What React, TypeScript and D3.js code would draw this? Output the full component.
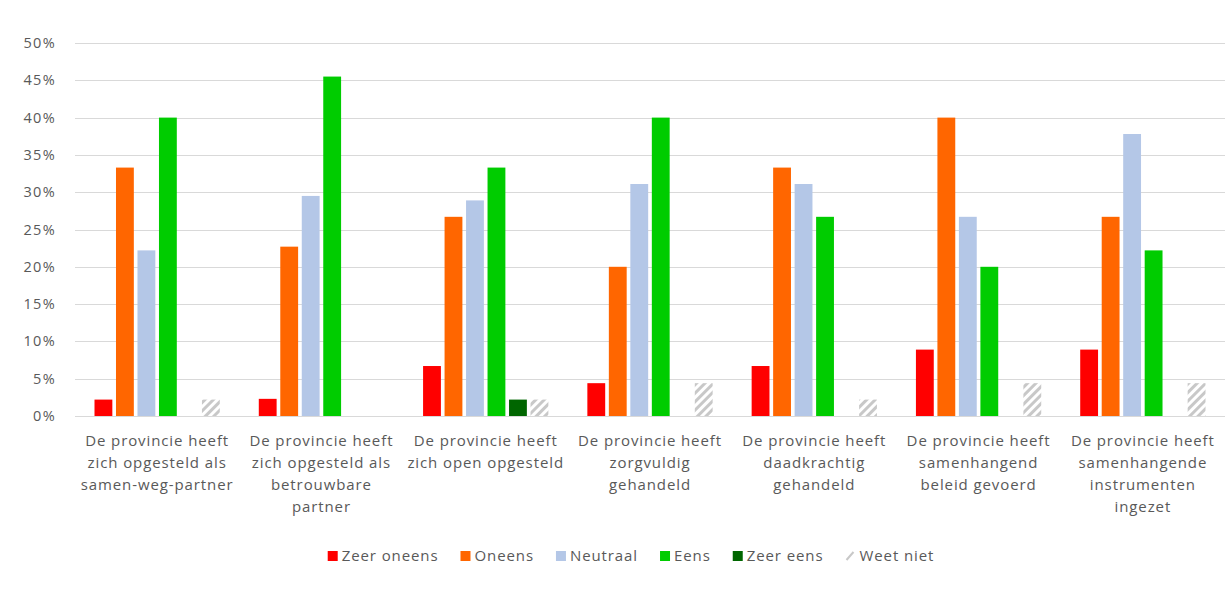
import React, { useEffect, useRef } from 'react';
import * as d3 from 'd3';

const categories = [
  'De provincie heeft zich opgesteld als samen-weg-partner',
  'De provincie heeft zich opgesteld als betrouwbare partner',
  'De provincie heeft zich open opgesteld',
  'De provincie heeft zorgvuldig gehandeld',
  'De provincie heeft daadkrachtig gehandeld',
  'De provincie heeft samenhangend beleid gevoerd',
  'De provincie heeft samenhangende instrumenten ingezet',
];

// how the category labels wrap in the original
const labelLines = [
  ['De provincie heeft', 'zich opgesteld als', 'samen-weg-partner'],
  ['De provincie heeft', 'zich opgesteld als', 'betrouwbare', 'partner'],
  ['De provincie heeft', 'zich open opgesteld'],
  ['De provincie heeft', 'zorgvuldig', 'gehandeld'],
  ['De provincie heeft', 'daadkrachtig', 'gehandeld'],
  ['De provincie heeft', 'samenhangend', 'beleid gevoerd'],
  ['De provincie heeft', 'samenhangende', 'instrumenten', 'ingezet'],
];

const seriesNames = ['Zeer oneens', 'Oneens', 'Neutraal', 'Eens', 'Zeer eens', 'Weet niet'];
const seriesColors = ['#ff0000', '#ff6600', '#b4c7e7', '#00cc00', '#006600', 'url(#hatch)'];

const zeerOneens = [0.022, 0.023, 0.067, 0.044, 0.067, 0.089, 0.089];
const oneens = [0.333, 0.227, 0.267, 0.2, 0.333, 0.4, 0.267];
const neutraal = [0.222, 0.295, 0.289, 0.311, 0.311, 0.267, 0.378];
const eens = [0.4, 0.455, 0.333, 0.4, 0.267, 0.2, 0.222];
const zeerEens = [0, 0, 0.022, 0, 0, 0, 0];
const weetNiet = [0.022, 0, 0.022, 0.044, 0.022, 0.044, 0.044];

const seriesValues = [zeerOneens, oneens, neutraal, eens, zeerEens, weetNiet];

const yTicks = [0, 0.05, 0.1, 0.15, 0.2, 0.25, 0.3, 0.35, 0.4, 0.45, 0.5];

const W = 1227;
const H = 605;
const FONT = '"Open Sans", sans-serif';
const TEXT = '#595959';

const App: React.FC = () => {
  const svgRef = useRef<SVGSVGElement>(null);

  useEffect(() => {
    if (!svgRef.current) return;
    const root = d3.select(svgRef.current);
    root.selectAll('*').remove();

    const defs = root.append('defs');
    const pat = defs.append('pattern')
      .attr('id', 'hatch')
      .attr('patternUnits', 'userSpaceOnUse')
      .attr('width', 6)
      .attr('height', 6)
      .attr('patternTransform', 'rotate(45)');
    pat.append('rect').attr('width', 6).attr('height', 6).attr('fill', '#fff');
    pat.append('rect').attr('x', 0).attr('width', 3).attr('height', 6).attr('fill', '#c8c8c8');

    const left = 75, right = 1225, top = 43, bottom = 416;

    const x0 = d3.scaleBand<string>().domain(categories).range([left, right]);
    const gap = 19.5;
    const x1 = d3.scaleBand<string>()
      .domain(seriesNames)
      .range([gap, x0.bandwidth() - gap])
      .paddingInner(0.17);
    const y = d3.scaleLinear().domain([0, 0.5]).range([bottom, top]);

    // gridlines
    root.append('g')
      .selectAll('line')
      .data(yTicks)
      .enter()
      .append('line')
      .attr('x1', left)
      .attr('x2', right)
      .attr('y1', d => Math.round(y(d)) + 0.5)
      .attr('y2', d => Math.round(y(d)) + 0.5)
      .attr('stroke', '#d9d9d9')
      .attr('stroke-width', 1);

    // y tick labels
    root.append('g')
      .selectAll('text')
      .data(yTicks)
      .enter()
      .append('text')
      .attr('x', 56)
      .attr('y', d => y(d))
      .attr('dy', '0.35em')
      .attr('text-anchor', 'end')
      .attr('font-family', FONT)
      .attr('font-size', 14.5)
      .attr('letter-spacing', 1.3)
      .attr('fill', TEXT)
      .text(d => d3.format('.0%')(d));

    // bars
    seriesNames.forEach((name, si) => {
      root.append('g')
        .selectAll('rect')
        .data(seriesValues[si])
        .enter()
        .append('rect')
        .attr('x', (_, i) => (x0(categories[i]) || 0) + (x1(name) || 0))
        .attr('y', d => y(d))
        .attr('width', x1.bandwidth())
        .attr('height', d => bottom - y(d))
        .attr('fill', seriesColors[si]);
    });

    // category labels
    const lab = root.append('g');
    categories.forEach((c, i) => {
      const cx = (x0(c) || 0) + x0.bandwidth() / 2;
      const t = lab.append('text')
        .attr('text-anchor', 'middle')
        .attr('font-family', FONT)
        .attr('font-size', 15)
        .attr('letter-spacing', 0.9)
        .attr('fill', TEXT);
      labelLines[i].forEach((ln, li) => {
        t.append('tspan').attr('x', cx).attr('y', 446 + li * 22).text(ln);
      });
    });

    // legend
    const leg = root.append('g');
    const ly = 556;
    const items = seriesNames.map((n, i) => {
      const g = leg.append('g');
      if (i === 5) {
        g.append('line')
          .attr('x1', 1).attr('y1', 4).attr('x2', 8).attr('y2', -4)
          .attr('stroke', '#c8c8c8').attr('stroke-width', 2);
      } else {
        g.append('rect')
          .attr('x', 0).attr('y', -5).attr('width', 10).attr('height', 10)
          .attr('fill', seriesColors[i]);
      }
      const t = g.append('text')
        .attr('x', 14)
        .attr('dy', '0.35em')
        .attr('font-family', FONT)
        .attr('font-size', 15)
        .attr('letter-spacing', 0.9)
        .attr('fill', TEXT)
        .text(n);
      const w = 14 + (t.node() as SVGTextElement).getComputedTextLength();
      return { g, w };
    });
    const spacing = 22;
    const total = d3.sum(items, d => d.w) + spacing * (items.length - 1);
    let cur = 631 - total / 2;
    items.forEach(it => {
      it.g.attr('transform', `translate(${cur},${ly})`);
      cur += it.w + spacing;
    });
  }, []);

  return (
    <svg
      ref={svgRef}
      width={W}
      height={H}
      style={{ position: 'absolute', left: 0, top: 0, background: '#fff' }}
    />
  );
};

export default App;
